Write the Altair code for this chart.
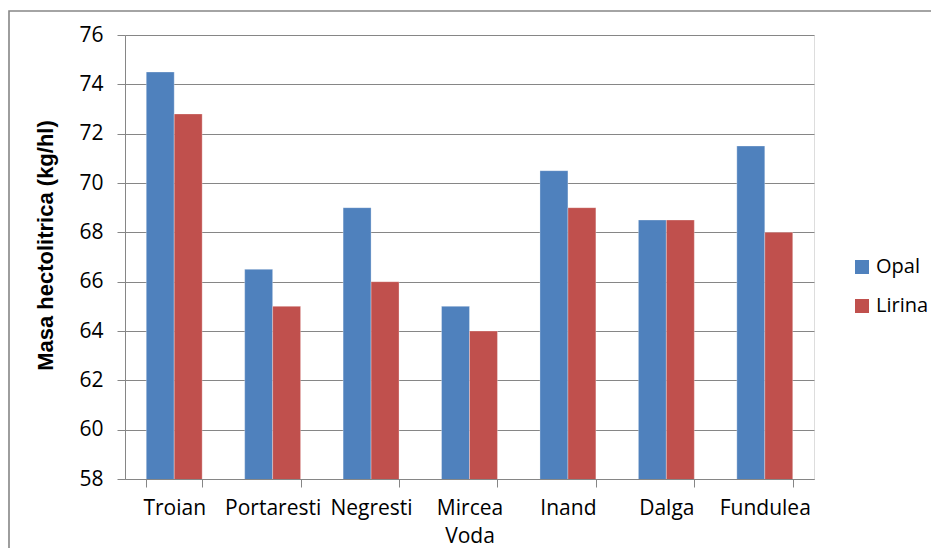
import altair as alt
import pandas as pd

categories = ["Troian", "Portaresti", "Negresti", "Mircea Voda", "Inand", "Dalga", "Fundulea"]
opal = [74.5, 66.5, 69.0, 65.0, 70.5, 68.5, 71.5]
lirina = [72.8, 65.0, 66.0, 64.0, 69.0, 68.5, 68.0]
series = ["Opal", "Lirina"]
colors = ["#4F81BD", "#C0504D"]
y_ticks = [58, 60, 62, 64, 66, 68, 70, 72, 74, 76]

rows = []
for c, o, l in zip(categories, opal, lirina):
    rows.append({"Loc": c, "Soi": "Opal", "Val": o})
    rows.append({"Loc": c, "Soi": "Lirina", "Val": l})
df = pd.DataFrame(rows)

FONT = "Open Sans"
GRAY = "#868686"

bars = alt.Chart(df).mark_bar(clip=True, stroke="white", strokeWidth=0.6, strokeOpacity=0.5).encode(
    x=alt.X("Loc:N", sort=categories, title=None,
            scale=alt.Scale(paddingInner=0.432, paddingOuter=0.216),
            axis=alt.Axis(labelAngle=0, labelFontSize=21, labelFont=FONT, labelColor="#000000",
                          labelPadding=10, tickBand="extent", ticks=True, tickSize=8,
                          tickColor=GRAY, domainColor=GRAY, labelLimit=200,
                          labelExpr="datum.label == 'Mircea Voda' ? ['Mircea', 'Voda'] : datum.label",
                          labelLineHeight=28)),
    xOffset=alt.XOffset("Soi:N", sort=series),
    y=alt.Y("Val:Q", title="Masa hectolitrica (kg/hl)",
            scale=alt.Scale(domain=[58, 76], zero=False, nice=False),
            axis=alt.Axis(values=y_ticks, labelFontSize=21, labelFont=FONT, labelColor="#000000",
                          tickSize=8, tickColor=GRAY, domainColor=GRAY,
                          gridColor=GRAY, gridWidth=1, labelPadding=14,
                          titleFont="Liberation Sans", titleFontSize=22, titleFontWeight="bold",
                          titleColor="#000000", titleX=-68, titleY=210)),
    color=alt.Color("Soi:N", sort=series,
                    scale=alt.Scale(domain=series, range=colors),
                    legend=alt.Legend(title=None, orient="none", legendX=727, legendY=222,
                                      symbolType="square", symbolSize=196, symbolStrokeWidth=0,
                                      labelFontSize=20, labelFont=FONT, labelColor="#000000",
                                      rowPadding=19, labelOffset=4)),
)

frame = alt.Chart(pd.DataFrame({"f": [0]})).mark_rect(
    fill="transparent", stroke=GRAY, strokeWidth=1.6, clip=False
).encode(x=alt.value(-116), x2=alt.value(900), y=alt.value(-24), y2=alt.value(600))

chart = alt.layer(frame, bars).properties(
    width=689, height=444,
    autosize=alt.AutoSizeParams(type="none"),
    padding={"left": 117, "top": 27, "right": 117, "bottom": 69},
).configure_view(stroke=None).configure(background="white")

chart.save("out.html", embed_options={"renderer": "svg", "actions": False})
